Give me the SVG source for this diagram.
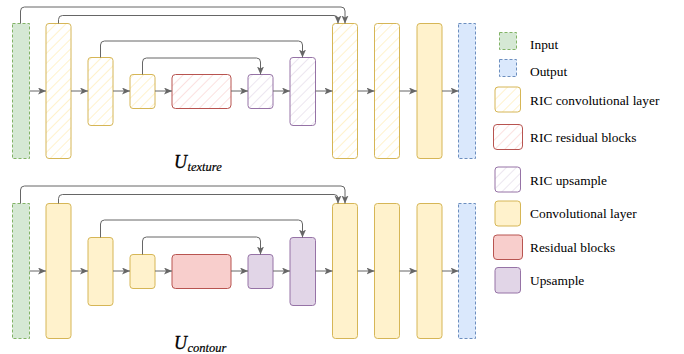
<svg xmlns="http://www.w3.org/2000/svg" width="684" height="354" viewBox="0 0 684 354">
<defs>
<pattern id="hy" width="7" height="7" patternUnits="userSpaceOnUse" patternTransform="rotate(45)"><rect width="7" height="7" fill="#ffffff"/><line x1="0" y1="0" x2="0" y2="7" stroke="#fff2cc" stroke-width="2"/></pattern>
<pattern id="hr" width="7" height="7" patternUnits="userSpaceOnUse" patternTransform="rotate(45)"><rect width="7" height="7" fill="#ffffff"/><line x1="0" y1="0" x2="0" y2="7" stroke="#fbe1e0" stroke-width="2"/></pattern>
<pattern id="hp" width="7" height="7" patternUnits="userSpaceOnUse" patternTransform="rotate(45)"><rect width="7" height="7" fill="#ffffff"/><line x1="0" y1="0" x2="0" y2="7" stroke="#ece6f0" stroke-width="2"/></pattern>
<marker id="ar" markerWidth="9" markerHeight="8" refX="8" refY="3.5" orient="auto" markerUnits="userSpaceOnUse"><path d="M0,0 L8,3.5 L0,7 L2,3.5 z" fill="#666666"/></marker>
</defs>
<style>
.in{fill:#d5e8d4;stroke:#82b366;stroke-dasharray:3 2}
.out{fill:#dae8fc;stroke:#6c8ebf;stroke-dasharray:3 2}
.rc{fill:url(#hy);stroke:#d6b656}
.rr{fill:url(#hr);stroke:#b85450}
.ru{fill:url(#hp);stroke:#9673a6}
.c{fill:#fff2cc;stroke:#d6b656}
.r{fill:#f8cecc;stroke:#b85450}
.u{fill:#e1d5e7;stroke:#9673a6}
.e{fill:none;stroke:#666666;stroke-width:1;marker-end:url(#ar)}
.lg{font-family:"Liberation Serif","Times New Roman",serif;font-size:13.4px;fill:#000}
.m{font-family:"Liberation Serif","Times New Roman",serif;font-style:italic;fill:#000}
</style>

<g id="top">
<g id="t_input"><rect class="in" x="12.5" y="23.5" width="17" height="135"/></g>
<g id="t_conv1"><rect class="rc" x="46" y="23.5" width="25" height="135" rx="3"/></g>
<g id="t_conv2"><rect class="rc" x="88" y="57.5" width="25" height="68" rx="3"/></g>
<g id="t_conv3"><rect class="rc" x="130" y="74.5" width="25" height="34" rx="3"/></g>
<g id="t_res"><rect class="rr" x="172" y="74.5" width="59" height="34" rx="3.5"/></g>
<g id="t_up1"><rect class="ru" x="248" y="74.5" width="25" height="34" rx="3"/></g>
<g id="t_up2"><rect class="ru" x="290" y="57.5" width="25.5" height="68" rx="3"/></g>
<g id="t_conv4"><rect class="rc" x="332.5" y="23.5" width="25" height="135" rx="3"/></g>
<g id="t_conv5"><rect class="rc" x="374.5" y="23.5" width="25" height="135" rx="3"/></g>
<g id="t_conv6"><rect class="c" x="417" y="23.5" width="25" height="135" rx="3"/></g>
<g id="t_output"><rect class="out" x="458.5" y="23.5" width="17" height="135"/></g>
<g id="t_label"><text class="m" x="174" y="168" font-size="18" stroke="#000" stroke-width="0.3">U</text><text class="m" x="187.5" y="170.5" font-size="12.5" stroke="#000" stroke-width="0.2">texture</text></g>
</g>

<g id="bottom">
<g id="b_input"><rect class="in" x="12.5" y="203.5" width="17" height="135"/></g>
<g id="b_conv1"><rect class="c" x="46" y="203.5" width="25" height="135" rx="3"/></g>
<g id="b_conv2"><rect class="c" x="88" y="237.5" width="25" height="68" rx="3"/></g>
<g id="b_conv3"><rect class="c" x="130" y="254.5" width="25" height="34" rx="3"/></g>
<g id="b_res"><rect class="r" x="172" y="254.5" width="59" height="34" rx="3.5"/></g>
<g id="b_up1"><rect class="u" x="248" y="254.5" width="25" height="34" rx="3"/></g>
<g id="b_up2"><rect class="u" x="290" y="237.5" width="25.5" height="68" rx="3"/></g>
<g id="b_conv4"><rect class="c" x="332.5" y="203.5" width="25" height="135" rx="3"/></g>
<g id="b_conv5"><rect class="c" x="374.5" y="203.5" width="25" height="135" rx="3"/></g>
<g id="b_conv6"><rect class="c" x="417" y="203.5" width="25" height="135" rx="3"/></g>
<g id="b_output"><rect class="out" x="458.5" y="203.5" width="17" height="135"/></g>
<g id="b_label"><text class="m" x="174" y="349" font-size="18" stroke="#000" stroke-width="0.3">U</text><text class="m" x="187.5" y="351.5" font-size="12.5" stroke="#000" stroke-width="0.2">contour</text></g>
</g>

<g id="connectors">
<path class="e" d="M29.5,91 H46"/>
<path class="e" d="M71,91 H88"/>
<path class="e" d="M113,91 H130"/>
<path class="e" d="M155,91 H172"/>
<path class="e" d="M231,91 H248"/>
<path class="e" d="M273,91 H290"/>
<path class="e" d="M315.5,91 H332.5"/>
<path class="e" d="M357.5,91 H374.5"/>
<path class="e" d="M399.5,91 H417"/>
<path class="e" d="M442,91 H458.5"/>
<path class="e" d="M20.5,23.5 V11 Q20.5,7 24.5,7 H341 Q345,7 345,11 V23.5"/>
<path class="e" d="M58.5,23.5 V19.5 Q58.5,15.5 62.5,15.5 H334 Q338,15.5 338,19.5 V23.5"/>
<path class="e" d="M100.5,57.5 V45 Q100.5,41 104.5,41 H298.5 Q302.5,41 302.5,45 V57.5"/>
<path class="e" d="M142.5,74.5 V62 Q142.5,58 146.5,58 H256.5 Q260.5,58 260.5,62 V74.5"/>

<path class="e" d="M29.5,271 H46"/>
<path class="e" d="M71,271 H88"/>
<path class="e" d="M113,271 H130"/>
<path class="e" d="M155,271 H172"/>
<path class="e" d="M231,271 H248"/>
<path class="e" d="M273,271 H290"/>
<path class="e" d="M315.5,271 H332.5"/>
<path class="e" d="M357.5,271 H374.5"/>
<path class="e" d="M399.5,271 H417"/>
<path class="e" d="M442,271 H458.5"/>
<path class="e" d="M20.5,203.5 V190 Q20.5,186 24.5,186 H341 Q345,186 345,190 V203.5"/>
<path class="e" d="M58.5,203.5 V198.5 Q58.5,194.5 62.5,194.5 H334 Q338,194.5 338,198.5 V203.5"/>
<path class="e" d="M100.5,237.5 V224 Q100.5,220 104.5,220 H298.5 Q302.5,220 302.5,224 V237.5"/>
<path class="e" d="M142.5,254.5 V241 Q142.5,237 146.5,237 H256.5 Q260.5,237 260.5,241 V254.5"/>
</g>

<g id="legend">
<g id="lg_input"><rect class="in" x="499.5" y="32.5" width="17" height="17"/><text class="lg" x="530" y="48.5">Input</text></g>
<g id="lg_output"><rect class="out" x="499.5" y="59.5" width="17" height="17"/><text class="lg" x="530" y="75.5">Output</text></g>
<g id="lg_ricconv"><rect class="rc" x="495" y="87" width="25.5" height="25" rx="3"/><text class="lg" x="530" y="104.5">RIC convolutional layer</text></g>
<g id="lg_ricres"><rect class="rr" x="493.5" y="124.5" width="29" height="25" rx="3.5"/><text class="lg" x="530" y="142">RIC residual blocks</text></g>
<g id="lg_ricup"><rect class="ru" x="495" y="167" width="25.5" height="25" rx="3"/><text class="lg" x="530" y="184.5">RIC upsample</text></g>
<g id="lg_conv"><rect class="c" x="495" y="201" width="25.5" height="25" rx="3"/><text class="lg" x="530" y="218">Convolutional layer</text></g>
<g id="lg_res"><rect class="r" x="493.5" y="235" width="29" height="24.5" rx="3.5"/><text class="lg" x="530" y="252">Residual blocks</text></g>
<g id="lg_up"><rect class="u" x="495" y="267.5" width="25.5" height="25.5" rx="3"/><text class="lg" x="530" y="284.5">Upsample</text></g>
</g>
</svg>
